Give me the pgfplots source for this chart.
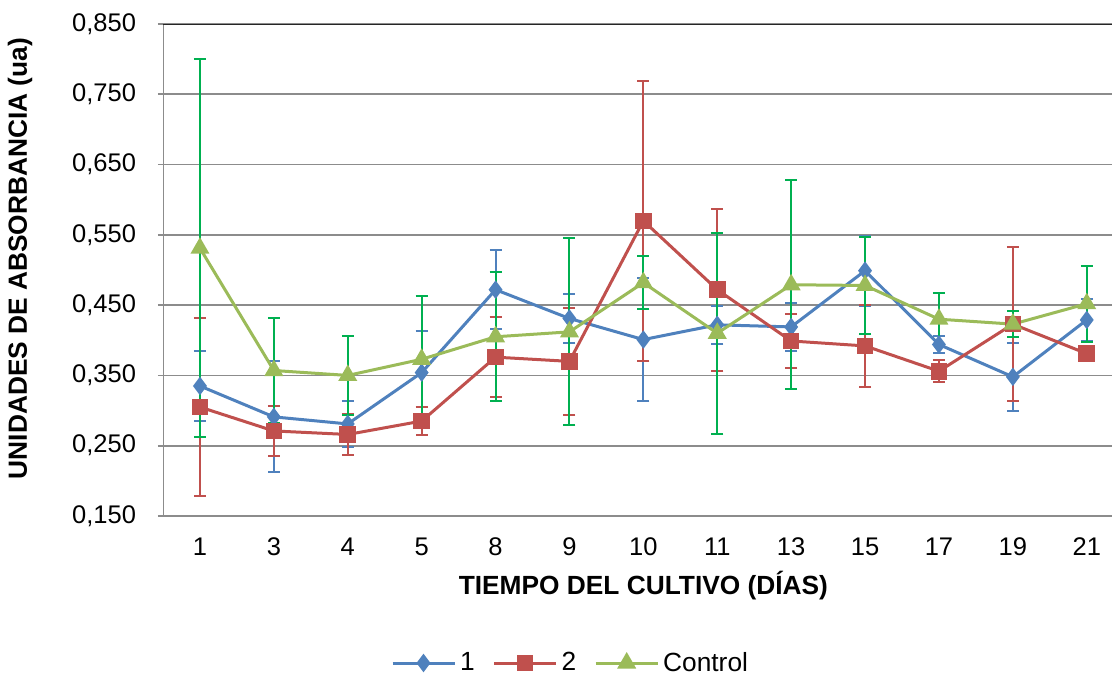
\documentclass[border=0pt]{standalone}
\usepackage{pgfplots}
\usepackage{pgfplotstable}
\pgfplotsset{compat=1.18}
\usepackage{fontspec}
\setmainfont{Liberation Sans}
\definecolor{cblue}{HTML}{4F81BD}
\definecolor{cred}{HTML}{C0504D}
\definecolor{cgreen}{HTML}{9BBB59}
\definecolor{cgerr}{HTML}{00B050}
\definecolor{cgrid}{HTML}{8C8C8C}

\pgfplotstableread{
x y e
0 0.335 0.050
1 0.291 0.079
2 0.281 0.033
3 0.354 0.059
4 0.472 0.056
5 0.431 0.035
6 0.401 0.087
7 0.422 0.027
8 0.419 0.034
9 0.499 0.050
10 0.394 0.012
11 0.348 0.048
12 0.429 0.030
}\serA
\pgfplotstableread{
x y e
0 0.305 0.127
1 0.271 0.035
2 0.266 0.029
3 0.285 0.020
4 0.376 0.057
5 0.370 0.076
6 0.570 0.199
7 0.472 0.115
8 0.399 0.038
9 0.392 0.058
10 0.356 0.016
11 0.423 0.110
12 0.381 0.010
}\serB
\pgfplotstableread{
x y e
0 0.531 0.269
1 0.357 0.075
2 0.350 0.056
3 0.373 0.090
4 0.405 0.092
5 0.412 0.133
6 0.482 0.038
7 0.410 0.143
8 0.479 0.149
9 0.478 0.069
10 0.430 0.037
11 0.423 0.019
12 0.452 0.054
}\serC

\begin{document}
\begin{tikzpicture}
\useasboundingbox (0,0) rectangle (556bp,337.5bp);
\begin{axis}[
  at={(81.5bp,79.5bp)}, anchor=south west,
  scale only axis, width=480.35bp, height=246bp,
  xmin=-0.5, xmax=12.5, ymin=0.15, ymax=0.85,
  xtick={0,...,12},
  xticklabels={1,3,4,5,8,9,10,11,13,15,17,19,21},
  ytick={0.15,0.25,0.35,0.45,0.55,0.65,0.75,0.85},
  ymajorgrids,
  major grid style={cgrid, line width=0.9bp},
  axis line style={draw=none},
  tick align=outside,
  major tick length=2.5bp,
  ytick style={cgrid, line width=0.9bp},
  xtick style={draw=none},
  tick label style={font=\fontsize{12.8}{15}\selectfont, /pgf/number format/assume math mode=true},
  yticklabel style={/pgf/number format/.cd, fixed, fixed zerofill, precision=3, use comma, assume math mode=true, /tikz/.cd, xshift=-7.5bp},
  xticklabel style={yshift=-5bp},
  xlabel={TIEMPO DEL CULTIVO (DÍAS)},
  ylabel={UNIDADES DE ABSORBANCIA (ua)},
  label style={font=\bfseries\fontsize{13.2}{15}\selectfont},
  xlabel style={at={(axis description cs:0.5,-0.1423)}, anchor=center},
  ylabel style={at={(axis description cs:-0.1489,0.5234)}, anchor=center},
  legend style={at={(axis description cs:0.4252,-0.2988)}, anchor=center, draw=none,
    font=\fontsize{13.2}{15}\selectfont, legend columns=3,
    /tikz/every even column/.append style={column sep=7bp}},
  legend cell align=left,
  legend image code/.code={\draw[mark repeat=2,mark phase=2,#1] plot coordinates {(0bp,0bp) (15.5bp,0bp) (31bp,0bp)};},
]
\addplot[cblue, line width=1.5bp, mark=diamond*, mark size=3.4bp, mark options={solid, fill=cblue},
  error bars/.cd, y dir=both, y explicit,
  error bar style={cblue, line width=1bp},
  error mark options={rotate=90, cblue, mark size=3bp, line width=1bp}]
  table[x=x, y=y, y error=e] {\serA};
\addlegendentry{1\hspace{12bp}}
\addplot[cred, line width=1.5bp, mark=square*, mark size=3.4bp, mark options={solid, fill=cred},
  error bars/.cd, y dir=both, y explicit,
  error bar style={cred, line width=1bp},
  error mark options={rotate=90, cred, mark size=3bp, line width=1bp}]
  table[x=x, y=y, y error=e] {\serB};
\addlegendentry{2\hspace{12bp}}
\addplot[cgreen, line width=1.5bp, mark=triangle*, mark size=4bp, mark options={solid, fill=cgreen},
  error bars/.cd, y dir=both, y explicit,
  error bar style={cgerr, line width=1bp},
  error mark options={rotate=90, cgerr, mark size=3bp, line width=1bp}]
  table[x=x, y=y, y error=e] {\serC};
\addlegendentry{Control}
\draw[cgrid, line width=1.2bp] (rel axis cs:0,0) -- (rel axis cs:0,1);
\draw[black!85, line width=1bp] (rel axis cs:0,1) -- (rel axis cs:1,1);
\end{axis}
\end{tikzpicture}
\end{document}
